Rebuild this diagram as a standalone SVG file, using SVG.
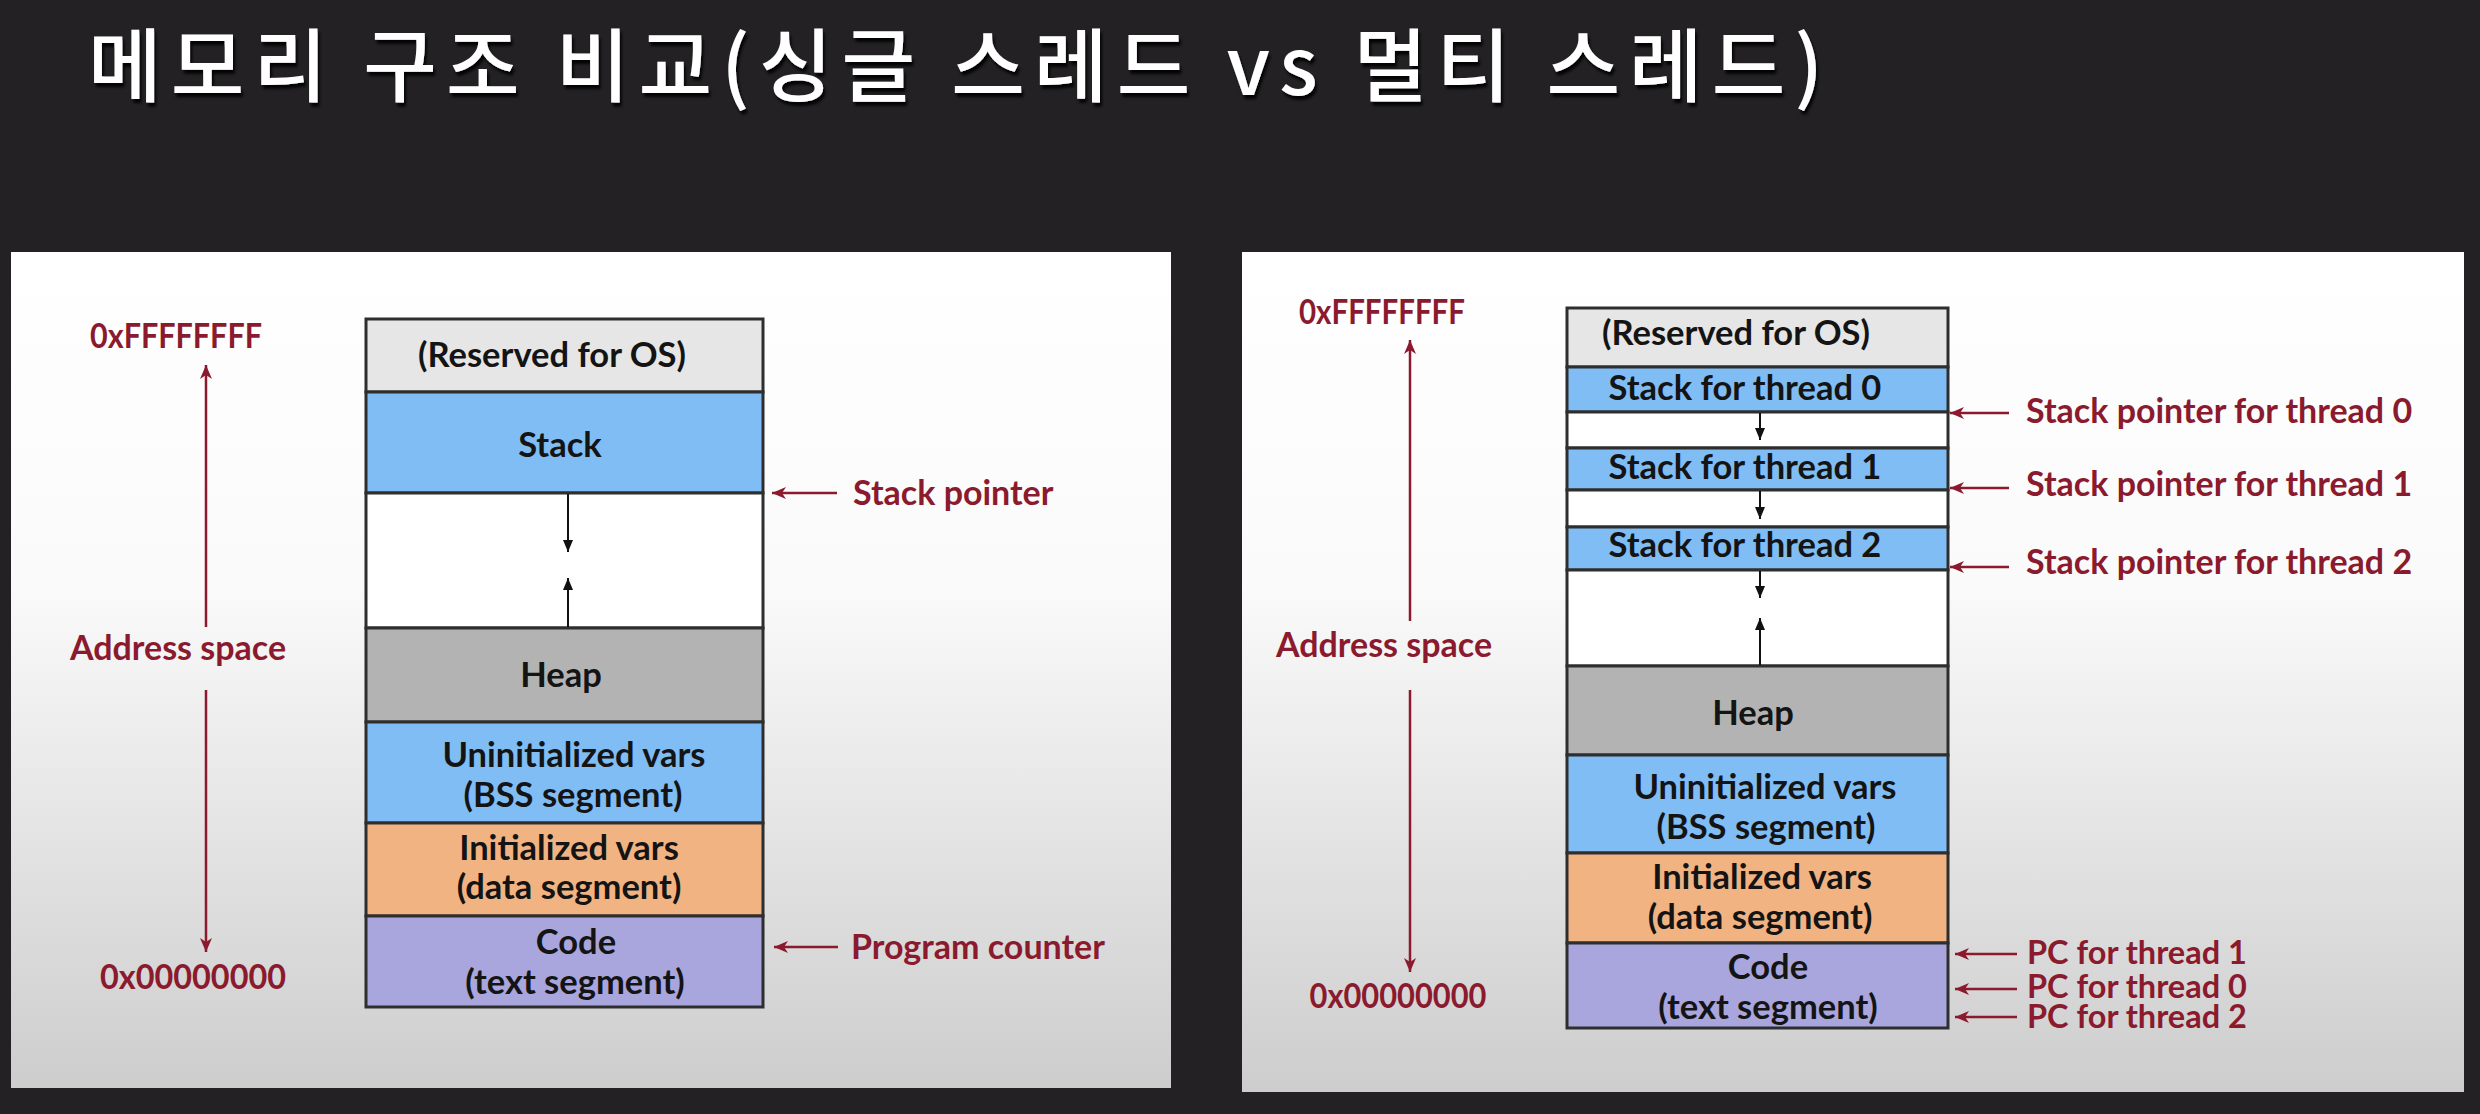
<svg xmlns="http://www.w3.org/2000/svg" width="2480" height="1114" viewBox="0 0 2480 1114">
<style>
.bg{fill:#232124}
.panel{fill:url(#pg)}
.seg{stroke:#2e2e2e;stroke-width:3}
.res{fill:#e6e6e6}
.stk{fill:#80bdf5}
.emp{fill:#ffffff}
.heap{fill:#b3b3b3}
.dat{fill:#f2b382}
.code{fill:#a9a5dd}
.t{font-family:Lato,"Open Sans","Liberation Sans",sans-serif;font-weight:700;font-size:34.5px;fill:#141414;text-anchor:middle}
.r{font-family:Lato,"Open Sans","Liberation Sans",sans-serif;font-weight:700;font-size:34px;fill:#8b1a2e}
.pc{font-size:32.5px}
.mid{text-anchor:middle}
.ra{stroke:#8b1a2e;stroke-width:2.5;fill:none;marker-end:url(#mr)}
.ba{stroke:#111;stroke-width:2;fill:none;marker-end:url(#mb)}
.title{font-family:"Noto Sans CJK KR","Noto Sans",sans-serif;font-weight:500;font-size:80px;fill:#ffffff}
</style>
<defs>
<linearGradient id="pg" x1="0" y1="0" x2="0" y2="1">
<stop offset="0" stop-color="#ffffff"/>
<stop offset="0.4" stop-color="#fafafa"/>
<stop offset="1" stop-color="#cdcdcd"/>
</linearGradient>
<marker id="mr" markerUnits="userSpaceOnUse" markerWidth="16" markerHeight="14" refX="14" refY="7" orient="auto">
<path d="M0,1 L14,7 L0,13 L4,7 Z" fill="#8b1a2e"/>
</marker>
<marker id="mb" markerUnits="userSpaceOnUse" markerWidth="14" markerHeight="12" refX="12" refY="6" orient="auto">
<path d="M0,1 L12,6 L0,11 Z" fill="#111"/>
</marker>
<filter id="sh" x="-5%" y="-20%" width="110%" height="150%">
<feDropShadow dx="2" dy="4" stdDeviation="1.5" flood-color="#000" flood-opacity="0.9"/>
</filter>
</defs>
<rect class="bg" x="0" y="0" width="2480" height="1114"/>
<g id="title">
<text class="title" x="88" y="95" textLength="1735" lengthAdjust="spacing" filter="url(#sh)">메모리 구조 비교(싱글 스레드 vs 멀티 스레드)</text>
</g>

<g id="panel-single">
<rect class="panel" x="11" y="252" width="1160" height="836"/>
</g>
<g id="panel-multi">
<rect class="panel" x="1242" y="252" width="1222" height="840"/>
</g>

<!-- Left memory layout -->
<g id="left-reserved"><rect class="res seg" x="366" y="319" width="397" height="73"/><text class="t" x="552" y="367">(Reserved for OS)</text></g>
<g id="left-stack"><rect class="stk seg" x="366" y="392" width="397" height="101"/><text class="t" x="560" y="457">Stack</text></g>
<g id="left-free"><rect class="emp seg" x="366" y="493" width="397" height="135"/></g>
<g id="left-heap"><rect class="heap seg" x="366" y="628" width="397" height="94"/><text class="t" x="561" y="687">Heap</text></g>
<g id="left-bss"><rect class="stk seg" x="366" y="722" width="397" height="101"/><text class="t" x="574" y="767">Uninitialized vars</text><text class="t" x="573" y="807">(BSS segment)</text></g>
<g id="left-data"><rect class="dat seg" x="366" y="823" width="397" height="93"/><text class="t" x="569" y="860">Initialized vars</text><text class="t" x="569" y="899">(data segment)</text></g>
<g id="left-code"><rect class="code seg" x="366" y="916" width="397" height="91"/><text class="t" x="576" y="954">Code</text><text class="t" x="575" y="994">(text segment)</text></g>

<g id="left-labels">
<text class="r mid" x="176" y="348" textLength="172" lengthAdjust="spacingAndGlyphs">0xFFFFFFFF</text>
<text class="r mid" x="178" y="660">Address space</text>
<text class="r mid" x="193" y="989" textLength="186" lengthAdjust="spacingAndGlyphs">0x00000000</text>
<text class="r" x="853" y="505">Stack pointer</text>
<text class="r" x="851" y="959">Program counter</text>
</g>

<!-- Right memory layout -->
<g id="right-reserved"><rect class="res seg" x="1567" y="308" width="381" height="59"/><text class="t" x="1736" y="345">(Reserved for OS)</text></g>
<g id="right-stack0"><rect class="stk seg" x="1567" y="367" width="381" height="45"/><text class="t" x="1745" y="400">Stack for thread 0</text></g>
<g id="right-gap0"><rect class="emp seg" x="1567" y="412" width="381" height="36"/></g>
<g id="right-stack1"><rect class="stk seg" x="1567" y="448" width="381" height="42"/><text class="t" x="1745" y="479">Stack for thread 1</text></g>
<g id="right-gap1"><rect class="emp seg" x="1567" y="490" width="381" height="37"/></g>
<g id="right-stack2"><rect class="stk seg" x="1567" y="527" width="381" height="43"/><text class="t" x="1745" y="557">Stack for thread 2</text></g>
<g id="right-free"><rect class="emp seg" x="1567" y="570" width="381" height="96"/></g>
<g id="right-heap"><rect class="heap seg" x="1567" y="666" width="381" height="89"/><text class="t" x="1753" y="725">Heap</text></g>
<g id="right-bss"><rect class="stk seg" x="1567" y="755" width="381" height="98"/><text class="t" x="1765" y="799">Uninitialized vars</text><text class="t" x="1766" y="839">(BSS segment)</text></g>
<g id="right-data"><rect class="dat seg" x="1567" y="853" width="381" height="90"/><text class="t" x="1762" y="889">Initialized vars</text><text class="t" x="1760" y="929">(data segment)</text></g>
<g id="right-code"><rect class="code seg" x="1567" y="943" width="381" height="85"/><text class="t" x="1768" y="979">Code</text><text class="t" x="1768" y="1019">(text segment)</text></g>

<g id="right-labels">
<text class="r mid" x="1382" y="324" textLength="166" lengthAdjust="spacingAndGlyphs">0xFFFFFFFF</text>
<text class="r mid" x="1384" y="657">Address space</text>
<text class="r mid" x="1398" y="1008" textLength="177" lengthAdjust="spacingAndGlyphs">0x00000000</text>
<text class="r" x="2026" y="423">Stack pointer for thread 0</text>
<text class="r" x="2026" y="496">Stack pointer for thread 1</text>
<text class="r" x="2026" y="574">Stack pointer for thread 2</text>
<text class="r pc" x="2027" y="964">PC for thread 1</text>
<text class="r pc" x="2027" y="998">PC for thread 0</text>
<text class="r pc" x="2027" y="1028">PC for thread 2</text>
</g>

<g id="connectors">
<!-- left -->
<line class="ra" x1="206" y1="627" x2="206" y2="365"/>
<line class="ra" x1="206" y1="690" x2="206" y2="952"/>
<line class="ra" x1="837" y1="493" x2="772" y2="493"/>
<line class="ra" x1="838" y1="947" x2="774" y2="947"/>
<line class="ba" x1="568" y1="494" x2="568" y2="552"/>
<line class="ba" x1="568" y1="627" x2="568" y2="578"/>
<!-- right -->
<line class="ra" x1="1410" y1="621" x2="1410" y2="340"/>
<line class="ra" x1="1410" y1="690" x2="1410" y2="972"/>
<line class="ra" x1="2009" y1="413" x2="1950" y2="413"/>
<line class="ra" x1="2009" y1="488" x2="1950" y2="488"/>
<line class="ra" x1="2009" y1="567" x2="1950" y2="567"/>
<line class="ra" x1="2017" y1="954" x2="1955" y2="954"/>
<line class="ra" x1="2017" y1="989" x2="1955" y2="989"/>
<line class="ra" x1="2017" y1="1017" x2="1955" y2="1017"/>
<line class="ba" x1="1760" y1="413" x2="1760" y2="440"/>
<line class="ba" x1="1760" y1="491" x2="1760" y2="519"/>
<line class="ba" x1="1760" y1="571" x2="1760" y2="598"/>
<line class="ba" x1="1760" y1="665" x2="1760" y2="618"/>
</g>
</svg>
